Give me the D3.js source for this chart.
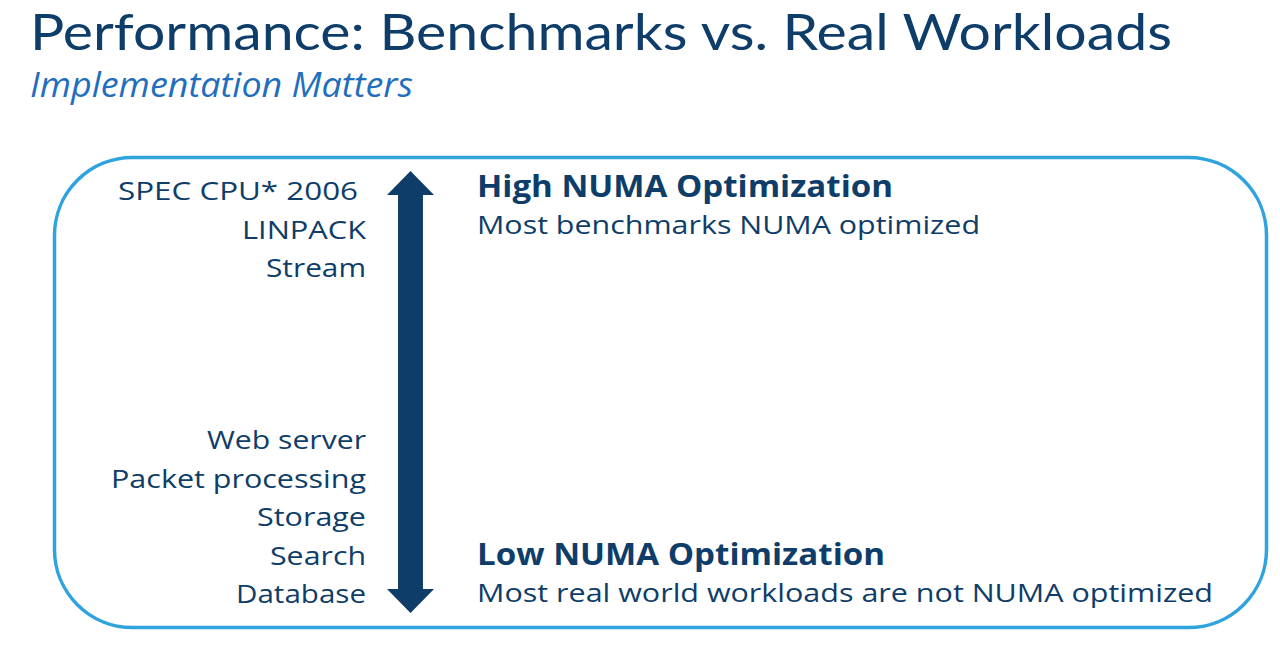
<!DOCTYPE html>
<html>
<head>
<meta charset="utf-8">
<script src="https://cdn.jsdelivr.net/npm/d3@7"></script>
<style>
  html, body { margin: 0; padding: 0; background: #ffffff; }
  svg { display: block; }
</style>
</head>
<body>
<svg id="chart" width="1280" height="657"></svg>
<script>
// ---- data ----
const titleText = "Performance: Benchmarks vs. Real Workloads";
const subtitleText = "Implementation Matters";
const highLabels = ["SPEC CPU* 2006", "LINPACK", "Stream"];
const lowLabels = ["Web server", "Packet processing", "Storage", "Search", "Database"];
const levels = ["High NUMA Optimization", "Low NUMA Optimization"];
const levelNotes = ["Most benchmarks NUMA optimized", "Most real world workloads are not NUMA optimized"];
const levelValues = [1, 0];

// ---- style / layout ----
const navy = "#0f3d69";
const lightBlue = "#2fa3dd";
const midBlue = "#1f6fbe";
const fontFamily = "'Open Sans', 'Noto Sans', sans-serif";
const titleFamily = "Lato, 'Open Sans', sans-serif";
// rendered widths of each text in the original typeface (Intel Clear is wider)
const textWidths = {
  "Performance: Benchmarks vs. Real Workloads": 1142,
  "Implementation Matters": 383,
  "SPEC CPU* 2006": 240,
  "LINPACK": 124,
  "Stream": 100,
  "Web server": 159,
  "Packet processing": 255,
  "Storage": 109,
  "Search": 96,
  "Database": 130,
  "High NUMA Optimization": 416,
  "Low NUMA Optimization": 408,
  "Most benchmarks NUMA optimized": 503,
  "Most real world workloads are not NUMA optimized": 736
};

const svg = d3.select("#chart");

function stretch(sel) {
  sel.each(function() {
    const t = d3.select(this);
    const w = textWidths[t.text()];
    if (w) t.attr("textLength", w).attr("lengthAdjust", "spacingAndGlyphs");
  });
  return sel;
}

// Title
stretch(svg.append("text")
  .attr("x", 30).attr("y", 50)
  .attr("font-family", titleFamily)
  .attr("font-size", 50)
  .attr("fill", navy)
  .text(titleText));

stretch(svg.append("text")
  .attr("x", 30).attr("y", 97)
  .attr("font-family", fontFamily)
  .attr("font-style", "italic")
  .attr("font-size", 34)
  .attr("fill", midBlue)
  .text(subtitleText));

// Frame
svg.append("rect")
  .attr("x", 54.5).attr("y", 157.5)
  .attr("width", 1212).attr("height", 470)
  .attr("rx", 78).attr("ry", 78)
  .attr("fill", "none")
  .attr("stroke", lightBlue)
  .attr("stroke-width", 3.5);

// Arrow: optimisation level scale
const yLevel = d3.scaleLinear().domain([0, 1]).range([613, 171]);
const arrowX = d3.scaleLinear().domain([-1, 1]).range([387, 434]);
const shaftHalf = 0.53, headLen = 24;
const yTopA = yLevel(1), yBotA = yLevel(0);
const arrowPts = [
  [arrowX(0), yTopA],
  [arrowX(1), yTopA + headLen],
  [arrowX(shaftHalf), yTopA + headLen],
  [arrowX(shaftHalf), yBotA - headLen],
  [arrowX(1), yBotA - headLen],
  [arrowX(0), yBotA],
  [arrowX(-1), yBotA - headLen],
  [arrowX(-shaftHalf), yBotA - headLen],
  [arrowX(-shaftHalf), yTopA + headLen],
  [arrowX(-1), yTopA + headLen]
];
svg.append("path")
  .attr("d", d3.line()(arrowPts) + "Z")
  .attr("fill", navy);

// Left labels
const yHigh = d3.scalePoint().domain(highLabels).range([200, 277]);
const yLow = d3.scalePoint().domain(lowLabels).range([449, 603]);
const labelSize = 25;

stretch(svg.append("g").selectAll("text")
  .data(highLabels).join("text")
  .attr("x", (d, i) => i === 0 ? 358 : 366)
  .attr("y", d => yHigh(d))
  .attr("text-anchor", "end")
  .attr("font-family", fontFamily)
  .attr("font-size", labelSize)
  .attr("fill", navy)
  .text(d => d));

stretch(svg.append("g").selectAll("text")
  .data(lowLabels).join("text")
  .attr("x", 366)
  .attr("y", d => yLow(d))
  .attr("text-anchor", "end")
  .attr("font-family", fontFamily)
  .attr("font-size", labelSize)
  .attr("fill", navy)
  .text(d => d));

// Right-hand level headings
const yHead = d3.scaleLinear().domain([0, 1]).range([565, 197]);
levels.forEach((lv, i) => {
  stretch(svg.append("text")
    .attr("x", 477).attr("y", yHead(levelValues[i]))
    .attr("font-family", fontFamily)
    .attr("font-weight", "bold")
    .attr("font-size", 30)
    .attr("fill", navy)
    .text(lv));
  stretch(svg.append("text")
    .attr("x", 477).attr("y", yHead(levelValues[i]) + 37)
    .attr("font-family", fontFamily)
    .attr("font-size", 26)
    .attr("fill", navy)
    .text(levelNotes[i]));
});
</script>
</body>
</html>
